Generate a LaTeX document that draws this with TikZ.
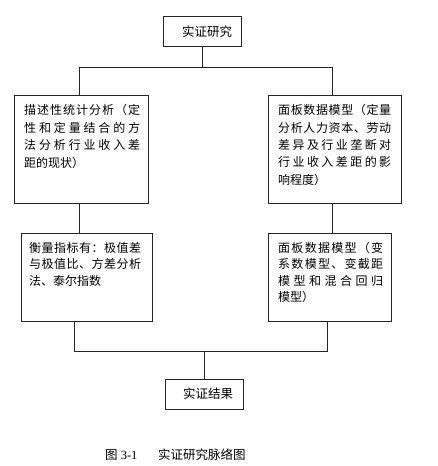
\documentclass[tikz,border=0pt]{standalone}
\usepackage{fontspec}
\setmainfont{Liberation Serif}
\newfontfamily\cjk{Noto Sans CJK SC}
\makeatletter
\newcommand\spreadline[2]{\makebox[#1][s]{\def\my@sep{}\@tfor\my@ch:=#2\do{\my@sep\my@ch\def\my@sep{\hfill}}}}
\makeatother
\begin{document}
\begin{tikzpicture}[x=1pt,y=-1pt,
  box/.style={draw=black!85,line width=0.9pt,inner sep=0pt},
  conn/.style={draw=black!85,line width=0.9pt},
  txt/.style={anchor=west,inner sep=0pt,font=\cjk\fontsize{12}{14}\selectfont},
  ctxt/.style={inner sep=0pt,font=\cjk\fontsize{12.5}{14}\selectfont}]
\useasboundingbox (0,0) rectangle (437,466);
% boxes
\node[box,minimum width=78pt,minimum height=30pt] (top) at (202,31) {};
\node[ctxt] (toptxt) at (207,32) {实证研究};
\node[box,minimum width=134pt,minimum height=108pt] (b1) at (81,149) {};
\node[box,minimum width=133pt,minimum height=108pt] (b2) at (334.5,149) {};
\node[box,minimum width=131pt,minimum height=88pt] (b3) at (86.5,277) {};
\node[box,minimum width=123pt,minimum height=88pt] (b4) at (329.5,277) {};
\node[box,minimum width=78pt,minimum height=30pt] (bot) at (204,394) {};
\node[ctxt] (bottxt) at (208,394) {实证结果};
% text of b1
\node[txt] (t11) at (24,110) {\spreadline{116pt}{描述性统计分析（定}};
\node[txt] (t12) at (24,128) {\spreadline{116pt}{性和定量结合的方}};
\node[txt] (t13) at (24,145) {\spreadline{116pt}{法分析行业收入差}};
\node[txt] (t14) at (24,163) {距的现状）};
% text of b2
\node[txt] (t21) at (278,110) {\spreadline{113pt}{面板数据模型（定量}};
\node[txt] (t22) at (278,128) {\spreadline{113pt}{分析人力资本、劳动}};
\node[txt] (t23) at (278,145) {\spreadline{113pt}{差异及行业垄断对}};
\node[txt] (t24) at (278,162) {\spreadline{113pt}{行业收入差距的影}};
\node[txt] (t25) at (278,180) {响程度）};
% text of b3
\node[txt] (t31) at (29,248) {\spreadline{112pt}{衡量指标有：极值差}};
\node[txt] (t32) at (29,264) {\spreadline{112pt}{与极值比、方差分析}};
\node[txt] (t33) at (29,281) {法、泰尔指数};
% text of b4
\node[txt] (t41) at (278,248) {\spreadline{105pt}{面板数据模型（变}};
\node[txt] (t42) at (278,264) {\spreadline{105pt}{系数模型、变截距}};
\node[txt] (t43) at (278,281) {\spreadline{105pt}{模型和混合回归}};
\node[txt] (t44) at (278,297) {模型）};
% caption
\node[inner sep=0pt,anchor=west,font=\fontsize{12.5}{14}\selectfont] (cap1) at (105,455) {{\cjk 图} 3-1};
\node[inner sep=0pt,anchor=west,font=\cjk\fontsize{12.5}{14}\selectfont] (cap2) at (158,455) {实证研究脉络图};
% connectors
\coordinate (jt) at (202,67);
\coordinate (jtl) at (79,67);
\coordinate (jtr) at (332,67);
\coordinate (jb) at (204,351);
\coordinate (jbl) at (74,351);
\coordinate (jbr) at (327,351);
\draw[conn] (top.south) -- (jt);
\draw[conn] (jtl |- b1.north) -- (jtl) -- (jtr) -- (jtr |- b2.north);
\draw[conn] (jtl |- b1.south) -- (jtl |- b3.north);
\draw[conn] (jtr |- b2.south) -- (jtr |- b4.north);
\draw[conn] (jbl |- b3.south) -- (jbl) -- (jbr) -- (jbr |- b4.south);
\draw[conn] (jb) -- (bot.north);
\end{tikzpicture}
\end{document}
